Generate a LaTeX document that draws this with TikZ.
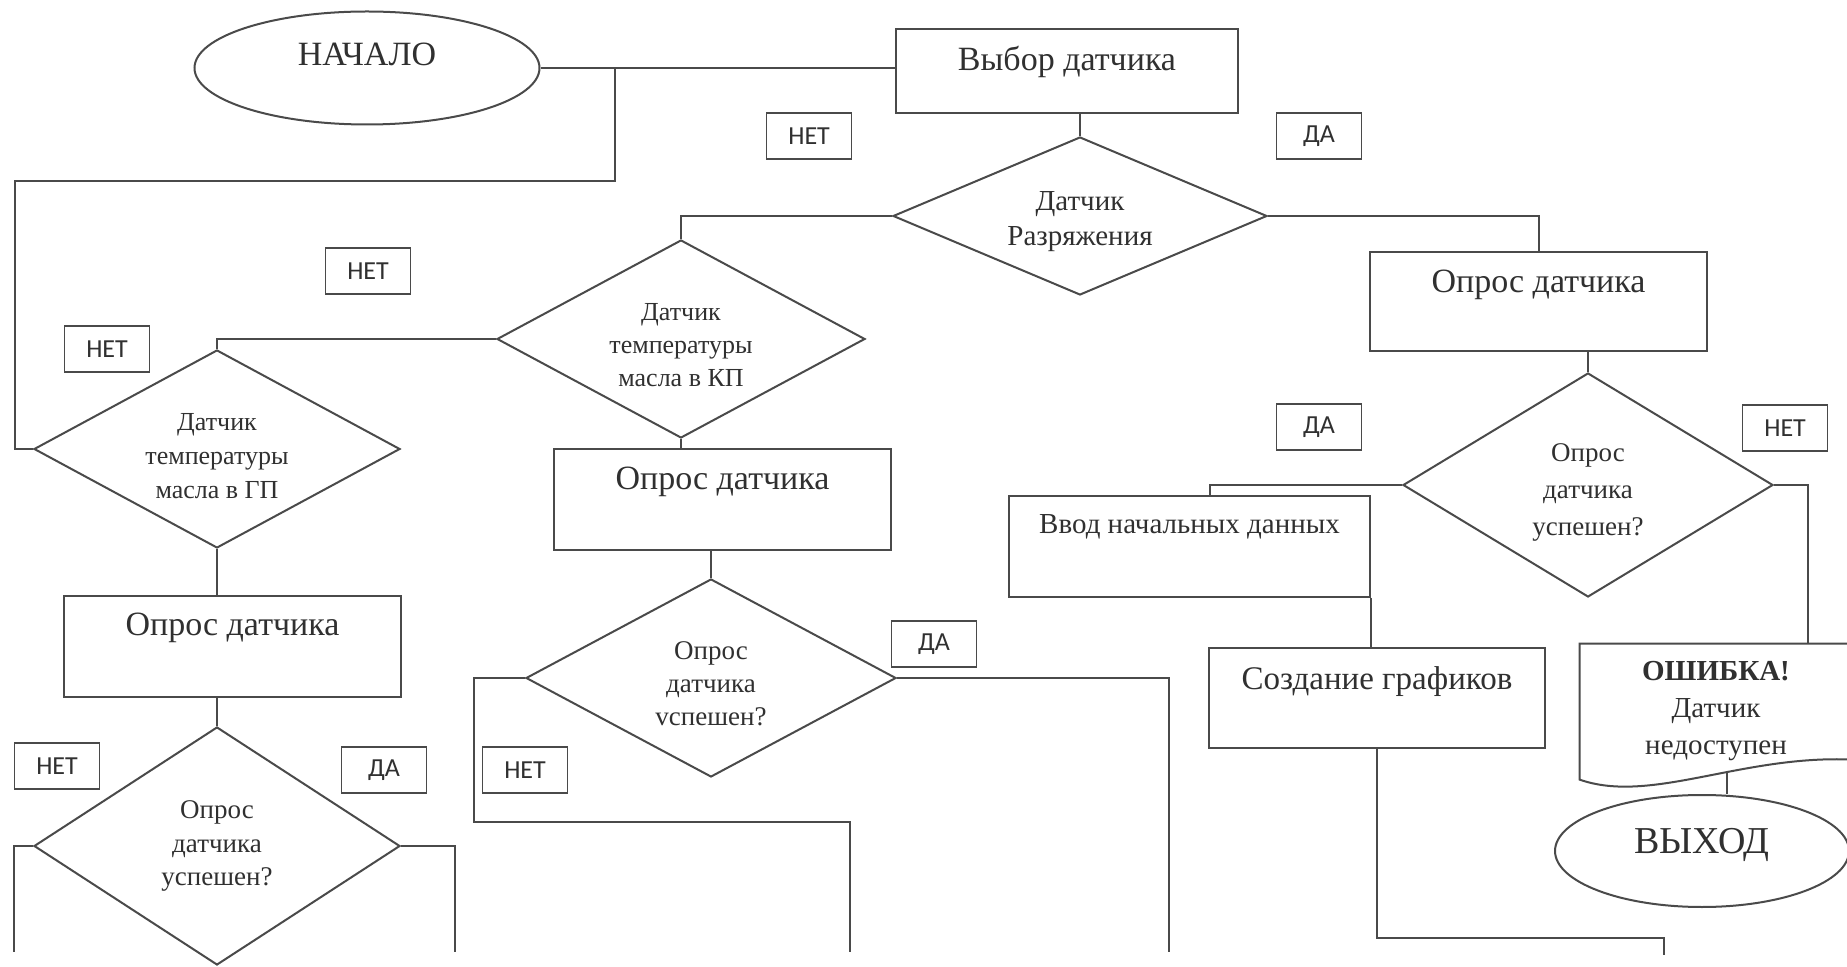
\documentclass[tikz,border=0pt]{standalone}
\usepackage{fontspec}
\setmainfont{Liberation Serif}
\newfontfamily\labfont{Carlito}
\usetikzlibrary{shapes.geometric,calc}
\definecolor{ln}{HTML}{4A4A4A}
\definecolor{tx}{HTML}{303030}
\newcommand\lift[2]{\raisebox{#1}[0.6em][0pt]{#2}}
\newcommand\dn[1]{\rule{0pt}{#1}}
\begin{document}
\begin{tikzpicture}[x=0.5pt,y=-0.5pt,
 conn/.style={draw=ln,line width=1pt},
 rbox/.style={draw=ln,line width=1pt,rectangle,inner sep=0pt,text=tx,font=\fontsize{17}{20}\selectfont},
 dia/.style={draw=ln,line width=1pt,diamond,aspect=2,inner sep=0pt,align=center,text=tx},
 oval/.style={draw=ln,line width=1pt,ellipse,inner sep=0pt,text=tx},
 tag/.style={draw=ln,line width=0.8pt,rectangle,inner sep=0pt,minimum width=42.5pt,minimum height=23pt,text=tx,font=\labfont\fontsize{13}{15}\selectfont}]
\useasboundingbox (0,0) rectangle (1847,967);
\fill[white] (0,0) rectangle (1847,967);
\clip (0,0) rectangle (1847,967);

% nodes
\node[oval,minimum width=172.5pt,minimum height=56.5pt,font=\fontsize{17}{20}\selectfont] (start) at (367,68) {\lift{6.5pt}{НАЧАЛО}};
\node[rbox,minimum width=171pt,minimum height=42pt] (sel) at (1067,71) {\lift{5.5pt}{Выбор датчика}};
\node[dia,minimum width=187pt,minimum height=79pt,font=\fontsize{14.5}{17.5}\selectfont] (dr) at (1080,216) {\dn{14.6pt}Датчик\\Разряжения};
\node[rbox,minimum width=168.5pt,minimum height=49.5pt] (poll1) at (1538.5,301.5) {\lift{9.75pt}{Опрос датчика}};
\node[dia,minimum width=185pt,minimum height=112pt,font=\fontsize{13.5}{18.5}\selectfont] (ok1) at (1588,485) {\dn{16pt}Опрос\\датчика\\успешен?};
\node[rbox,minimum width=180.5pt,minimum height=50.5pt,font=\fontsize{14.5}{17}\selectfont] (inp) at (1189.5,546.5) {\lift{10.75pt}{Ввод начальных данных}};
\node[rbox,minimum width=168pt,minimum height=50pt,font=\fontsize{16.5}{20}\selectfont] (graph) at (1377,698) {\lift{9pt}{Создание графиков}};
\node[font=\fontsize{14.5}{18.5}\selectfont,align=center,inner sep=0pt,minimum width=136pt,minimum height=67pt,text=tx] (err) at (1716,711) {\textbf{ОШИБКА!}\\Датчик\\недоступен};
\node[oval,minimum width=147pt,minimum height=56pt,font=\fontsize{19}{22}\selectfont] (exit) at (1702,851) {\lift{4.5pt}{ВЫХОД}};
\node[dia,minimum width=184pt,minimum height=99pt,font=\fontsize{13}{16.5}\selectfont] (kp) at (681,339) {\dn{14.6pt}Датчик\\температуры\\масла в КП};
\node[rbox,minimum width=168.5pt,minimum height=50.5pt] (poll2) at (722.5,499.5) {\lift{10.25pt}{Опрос датчика}};
\node[dia,minimum width=185pt,minimum height=99pt,font=\fontsize{13.5}{16.5}\selectfont] (ok2) at (711,678) {\dn{15pt}Опрос\\датчика\\vспешен?};
\node[dia,minimum width=183pt,minimum height=99pt,font=\fontsize{13}{17}\selectfont] (gp) at (217,449) {\dn{15.6pt}Датчик\\температуры\\масла в ГП};
\node[rbox,minimum width=168.5pt,minimum height=50.5pt] (poll3) at (232.5,646.5) {\lift{10.75pt}{Опрос датчика}};
\node[dia,minimum width=183pt,minimum height=119pt,font=\fontsize{13.5}{16.75}\selectfont] (ok3) at (217,846) {Опрос\\датчика\\успешен?};

% document outline of the error node
\draw[conn] (err.north east) -- (err.north west) -- ++(0,136) .. controls +(71,25) and +(-111,-5) .. ($(err.north east)+(0,116)$) -- cycle;

% tags
\node[tag] (t1) at (809,136) {НЕТ};
\node[tag] (t2) at (1319,136) {ДА};
\node[tag] (t3) at (368,271) {НЕТ};
\node[tag] (t4) at (107,349) {НЕТ};
\node[tag] (t5) at (1319,427) {ДА};
\node[tag] (t6) at (1785,428) {НЕТ};
\node[tag] (t7) at (934,644) {ДА};
\node[tag] (t8) at (57,766) {НЕТ};
\node[tag] (t9) at (384,770) {ДА};
\node[tag] (t10) at (525,770) {НЕТ};

% connectors
\coordinate (j1) at (615,68);
\coordinate (j2) at (15,181);
\draw[conn] (start.east) -- (start.east -| sel.west);
\draw[conn] (j1) |- (j2) |- (gp.west);
\draw[conn] (sel.south -| dr.north) -- (dr.north);
\draw[conn] (dr.east) -| (poll1.north);
\draw[conn] (dr.west) -| (kp.north);
\draw[conn] (kp.west) -| (gp.north);
\draw[conn] (kp.south) -- (kp.south |- poll2.north);
\draw[conn] (ok2.north |- poll2.south) -- (ok2.north);
\coordinate (m1) at (474,822);
\coordinate (m2) at (850,952);
\coordinate (m3) at (1169,952);
\draw[conn] (ok2.west) -| (m1) -| (m2);
\draw[conn] (ok2.east) -| (m3);
\draw[conn] (gp.south) -- (gp.south |- poll3.north);
\draw[conn] (ok3.north |- poll3.south) -- (ok3.north);
\coordinate (n1) at (14,952);
\coordinate (n2) at (455,952);
\draw[conn] (ok3.west) -| (n1);
\draw[conn] (ok3.east) -| (n2);
\draw[conn] (ok1.north |- poll1.south) -- (ok1.north);
\draw[conn] (ok1.west) -| ([xshift=10pt]inp.north);
\draw[conn] (inp.south east) -- (inp.south east |- graph.north);
\coordinate (g0) at (1664,938);
\coordinate (g1) at (1664,955);
\draw[conn] (graph.south) |- (g0) -- (g1);
\draw[conn] (ok1.east) -| ([xshift=46pt]err.north);
\coordinate (e0) at ($(err.south)+(11,-6)$);
\draw[conn] (e0) -- (e0 |- exit.north);
\end{tikzpicture}
\end{document}
